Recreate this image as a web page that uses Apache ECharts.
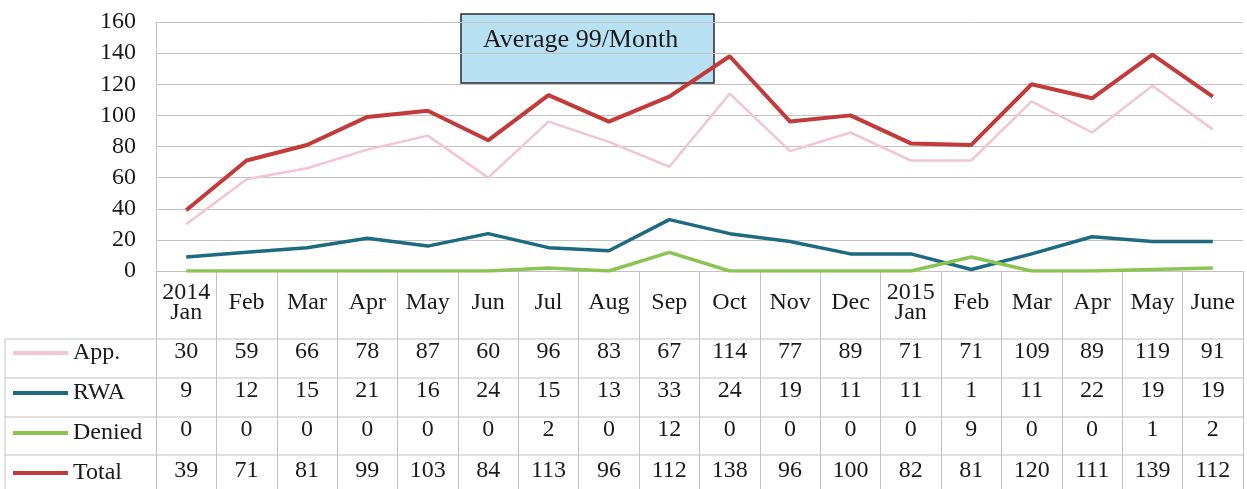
<!DOCTYPE html>
<html>
<head>
<meta charset="utf-8">
<title>Monthly totals</title>
<script src="https://cdn.jsdelivr.net/npm/echarts@6/dist/echarts.min.js"></script>
<style>
  html, body { margin: 0; padding: 0; background: #fff; }
  #chart { width: 1247px; height: 489px; }
</style>
</head>
<body>
<div id="chart"></div>
<script>
// data
const months = ['2014\nJan', 'Feb', 'Mar', 'Apr', 'May', 'Jun', 'Jul', 'Aug', 'Sep', 'Oct', 'Nov', 'Dec',
  '2015\nJan', 'Feb', 'Mar', 'Apr', 'May', 'June']
const app = [30, 59, 66, 78, 87, 60, 96, 83, 67, 114, 77, 89, 71, 71, 109, 89, 119, 91]
const rwa = [9, 12, 15, 21, 16, 24, 15, 13, 33, 24, 19, 11, 11, 1, 11, 22, 19, 19]
const denied = [0, 0, 0, 0, 0, 0, 2, 0, 12, 0, 0, 0, 0, 9, 0, 0, 1, 2]
const total = [39, 71, 81, 99, 103, 84, 113, 96, 112, 138, 96, 100, 82, 81, 120, 111, 139, 112]
const yTicks = { min: 0, max: 160, interval: 20 }
const note = 'Average 99/Month'

const font = 'Liberation Serif'
const fontSize = 24
const textColor = '#1a1a1a'
const lineGray = '#c2c2c2'

const chartDom = document.getElementById('chart')
const chart = echarts.init(chartDom)

// one extra x axis per table row, labels are the values
const rowAxis = (values, margin) => ({
  type: 'category',
  position: 'bottom',
  data: values.map(String),
  axisLine: { show: false },
  axisTick: { show: false },
  axisLabel: {
    interval: 0,
    margin: margin,
    verticalAlign: 'middle',
    fontFamily: font,
    fontSize: fontSize,
    color: textColor
  }
})

const tableLines = [339, 378, 417, 455].map(y => ({
  type: 'line',
  shape: { x1: 5, y1: y, x2: 1243, y2: y },
  style: { stroke: lineGray, lineWidth: 1 }
}))

const option = {
  animation: false,
  grid: { left: 156, right: 4, top: 22, bottom: 218, containLabel: false },
  legend: {
    orient: 'vertical',
    left: 13,
    top: 341,
    padding: 0,
    itemGap: 16,
    itemWidth: 55,
    itemHeight: 4,
    icon: 'rect',
    textStyle: { fontFamily: font, fontSize: fontSize, color: textColor, lineHeight: 24 },
    data: ['App.', 'RWA', 'Denied', 'Total']
  },
  xAxis: [
    {
      type: 'category',
      data: months,
      axisLine: { lineStyle: { color: lineGray, width: 1 } },
      axisTick: { show: true, length: 218, lineStyle: { color: lineGray, width: 1 } },
      axisLabel: {
        interval: 0,
        margin: 32,
        verticalAlign: 'middle',
        lineHeight: 20,
        fontFamily: font,
        fontSize: fontSize,
        color: textColor
      }
    },
    rowAxis(app, 81),
    rowAxis(rwa, 120),
    rowAxis(denied, 159),
    rowAxis(total, 200)
  ],
  yAxis: {
    type: 'value',
    min: yTicks.min,
    max: yTicks.max,
    interval: yTicks.interval,
    axisLine: { show: true, lineStyle: { color: lineGray, width: 1 } },
    axisTick: { show: false },
    axisLabel: { margin: 20, fontFamily: font, fontSize: fontSize, color: textColor },
    splitLine: { lineStyle: { color: lineGray, width: 1 } }
  },
  series: [
    { name: 'App.', type: 'line', data: app, symbol: 'none', lineStyle: { color: '#f2c6d1', width: 2.5 }, itemStyle: { color: '#f2c6d1' } },
    { name: 'RWA', type: 'line', data: rwa, symbol: 'none', lineStyle: { color: '#1e6a80', width: 3.5 }, itemStyle: { color: '#1e6a80' } },
    { name: 'Denied', type: 'line', data: denied, symbol: 'none', lineStyle: { color: '#8cc453', width: 3.5 }, itemStyle: { color: '#8cc453' } },
    { name: 'Total', type: 'line', data: total, symbol: 'none', lineStyle: { color: '#c23a3a', width: 4 }, itemStyle: { color: '#c23a3a' } }
  ],
  graphic: [
    ...tableLines,
    {
      type: 'line',
      shape: { x1: 5, y1: 339, x2: 5, y2: 489 },
      style: { stroke: lineGray, lineWidth: 1 }
    },
    // note box
    {
      type: 'group',
      z: 100,
      children: [
        {
          type: 'rect',
          shape: { x: 461, y: 14, width: 253, height: 69 },
          style: { fill: '#b9e1f4', stroke: '#2a2a2a', lineWidth: 1.5 }
        },
        {
          type: 'text',
          x: 483,
          y: 40,
          style: { text: note, fontFamily: font, fontSize: 26, fill: textColor, verticalAlign: 'middle' }
        }
      ]
    }
  ]
}

chart.setOption(option)

window.addEventListener('resize', () => {
  chart && chart.resize()
})
</script>
</body>
</html>
